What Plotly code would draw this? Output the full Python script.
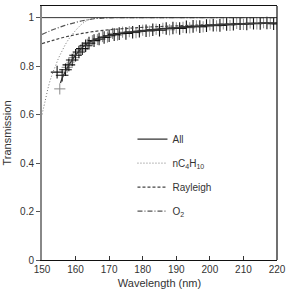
import plotly.graph_objects as go

# ---- data ----
nc4_wl = [150, 151, 152, 153, 154, 155, 156, 157, 158, 159, 160, 161, 162, 163, 164, 166, 168, 170, 180, 190, 200, 210, 220]
nc4_t = [0.60, 0.66, 0.72, 0.765, 0.80, 0.835, 0.863, 0.89, 0.912, 0.93, 0.947, 0.962, 0.975, 0.985, 0.992, 0.997, 0.999, 1.0, 1.0, 1.0, 1.0, 1.0, 1.0]

ray_wl = [150, 153, 156, 159, 162, 165, 170, 175, 180, 190, 200, 210, 220]
ray_t = [0.893, 0.905, 0.917, 0.927, 0.935, 0.942, 0.950, 0.955, 0.960, 0.966, 0.971, 0.975, 0.978]

o2_wl = [150, 152, 154, 156, 158, 160, 162, 164, 166, 168, 170, 175, 180, 200, 220]
o2_t = [0.931, 0.943, 0.954, 0.964, 0.973, 0.980, 0.987, 0.992, 0.996, 0.998, 0.999, 1.0, 1.0, 1.0, 1.0]

all_wl = [155.5, 156, 157, 158, 159, 160, 162, 164, 166, 168, 170, 175, 180, 185, 190, 195, 200, 205, 210, 215, 220]
all_t = [0.73, 0.75, 0.78, 0.805, 0.827, 0.846, 0.877, 0.898, 0.911, 0.920, 0.928, 0.939, 0.947, 0.953, 0.958, 0.963, 0.967, 0.971, 0.974, 0.976, 0.978]

meas1_wl = [154.5, 156, 157, 158, 159, 160, 161, 162, 163, 164, 165.5, 167, 168.5, 170, 171.5, 173, 175, 177, 179, 181, 183, 185, 187, 189, 191, 193, 195, 197, 199, 201, 203, 205, 207, 209, 211, 213, 215, 217, 219]
meas1_t = [0.775, 0.762, 0.785, 0.805, 0.825, 0.845, 0.858, 0.872, 0.884, 0.895, 0.905, 0.912, 0.918, 0.925, 0.930, 0.934, 0.935, 0.940, 0.944, 0.946, 0.950, 0.948, 0.955, 0.957, 0.955, 0.962, 0.964, 0.963, 0.967, 0.969, 0.968, 0.972, 0.973, 0.975, 0.974, 0.977, 0.976, 0.978, 0.975]

meas2_wl = [155.3, 157.5, 159.5, 161.5, 163.5, 165, 166.5, 168, 169.5, 171, 172.5, 174, 176, 178, 180, 182, 184, 186, 188, 190, 192, 194, 196, 198, 200, 202, 204, 206, 208, 210, 212, 214, 216, 218, 220]
meas2_t = [0.706, 0.795, 0.835, 0.866, 0.890, 0.905, 0.910, 0.922, 0.920, 0.935, 0.928, 0.940, 0.942, 0.938, 0.948, 0.944, 0.952, 0.956, 0.950, 0.958, 0.960, 0.958, 0.966, 0.962, 0.970, 0.966, 0.974, 0.968, 0.976, 0.972, 0.978, 0.974, 0.979, 0.976, 0.973]

x_ticks = [150, 160, 170, 180, 190, 200, 210, 220]
y_ticks = [0, 0.2, 0.4, 0.6, 0.8, 1]
y_labels = ["0", "0.2", "0.4", "0.6", "0.8", "1"]

FONT = "Liberation Sans, Arial, sans-serif"

fig = go.Figure()

fig.add_trace(go.Scatter(x=meas2_wl, y=meas2_t, mode="markers", showlegend=False,
                         marker=dict(symbol="cross-thin", size=8, line=dict(color="#8a8a8a", width=1))))
fig.add_trace(go.Scatter(x=meas1_wl, y=meas1_t, mode="markers", showlegend=False,
                         marker=dict(symbol="cross-thin", size=9, line=dict(color="#111111", width=1.1))))

fig.add_trace(go.Scatter(x=all_wl, y=all_t, mode="lines", name="All", legendgroup="a",
                         line=dict(color="#333333", width=1.3)))
fig.add_trace(go.Scatter(x=nc4_wl, y=nc4_t, mode="lines", name="nC<sub>4</sub>H<sub>10</sub>", legendgroup="b",
                         line=dict(color="#777777", width=1, dash="1px,2px"), line_shape="spline"))
fig.add_trace(go.Scatter(x=ray_wl, y=ray_t, mode="lines", name="Rayleigh", legendgroup="c",
                         line=dict(color="#444444", width=1.2, dash="3px,2px"), line_shape="spline"))
fig.add_trace(go.Scatter(x=o2_wl, y=o2_t, mode="lines", name="O<sub>2</sub>", legendgroup="d",
                         line=dict(color="#555555", width=1.2, dash="5px,2px,1px,2px"), line_shape="spline"))

# horizontal reference at T = 1
fig.add_hline(y=1, line=dict(color="#333333", width=1))
# right frame line
fig.add_shape(type="line", xref="paper", yref="paper", x0=1, x1=1, y0=0, y1=1,
              line=dict(color="#111111", width=1.2))

fig.update_layout(
    width=291, height=293,
    margin=dict(l=42, r=11, t=5, b=32),
    paper_bgcolor="white", plot_bgcolor="white",
    font=dict(family=FONT, size=10, color="#333333"),
    showlegend=True,
    legend=dict(x=0.385, y=0.533, xanchor="left", yanchor="top", bgcolor="rgba(0,0,0,0)",
                font=dict(size=10), tracegroupgap=5, itemwidth=30),
    xaxis=dict(range=[150, 220], tickvals=x_ticks, ticks="inside", ticklen=4,
               showgrid=False, zeroline=False, showline=True, linecolor="#111111",
               linewidth=1.2, mirror=True, tickcolor="#333333",
               title=dict(text="Wavelength (nm)", standoff=5, font=dict(size=11))),
    yaxis=dict(range=[0, 1.048], tickvals=y_ticks, ticktext=y_labels, ticks="outside",
               ticklen=4, showgrid=False, zeroline=False, showline=True, linecolor="#888888",
               linewidth=2, tickcolor="#555555",
               title=dict(text="Transmission", standoff=6, font=dict(size=11))),
)

fig.write_html("out.html", config={"displayModeBar": False},
               post_script="document.body.style.margin='0';")
